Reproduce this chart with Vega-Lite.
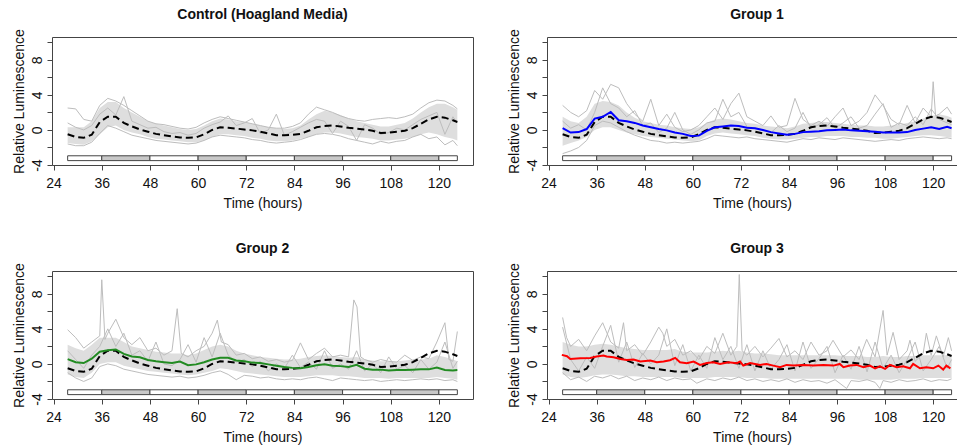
{
"$schema":"https://vega.github.io/schema/vega-lite/v6.json",
"padding":{"left":11,"top":7,"right":0,"bottom":0},
"config":{
"font":"Liberation Sans",
"view":{"stroke":"#444","strokeWidth":1},
"axis":{"domain":false,"grid":false,"tickColor":"#444","tickSize":5,"labelFontSize":14,"titleFontSize":14,"titleFontWeight":"normal","labelColor":"#111","titleColor":"#111","labelFlush":false,"labelOverlap":false},
"axisY":{"labelAngle":-90,"labelAlign":"center","labelBaseline":"bottom","labelPadding":3,"titlePadding":4},
"axisX":{"labelPadding":6,"titlePadding":6},
"title":{"fontSize":14,"fontWeight":"bold","anchor":"middle","frame":"group","offset":7,"color":"#111"}
},
"datasets":{
"ld":[{"x":27.5,"xe":36,"ph":"L"},{"x":36,"xe":48,"ph":"D"},{"x":48,"xe":60,"ph":"L"},{"x":60,"xe":72,"ph":"D"},{"x":72,"xe":84,"ph":"L"},{"x":84,"xe":96,"ph":"D"},{"x":96,"xe":108,"ph":"L"},{"x":108,"xe":120,"ph":"D"},{"x":120,"xe":124.6,"ph":"L"}],
"ctrl":[{"x":27.5,"y":-0.5},{"x":29.5,"y":-0.8},{"x":31.5,"y":-0.9},{"x":33.5,"y":-0.55},{"x":35.5,"y":0.9},{"x":37.5,"y":1.5},{"x":39.5,"y":1.5},{"x":41.5,"y":0.8},{"x":43.5,"y":0.4},{"x":45.5,"y":0.05},{"x":47.5,"y":-0.2},{"x":49.5,"y":-0.45},{"x":51.5,"y":-0.6},{"x":53.5,"y":-0.75},{"x":55.5,"y":-0.85},{"x":57.5,"y":-0.9},{"x":59.5,"y":-0.85},{"x":61.5,"y":-0.5},{"x":63.5,"y":0.0},{"x":65.5,"y":0.3},{"x":67.5,"y":0.25},{"x":69.5,"y":0.15},{"x":71.5,"y":0.05},{"x":73.5,"y":-0.05},{"x":75.5,"y":-0.2},{"x":77.5,"y":-0.4},{"x":79.5,"y":-0.6},{"x":81.5,"y":-0.6},{"x":83.5,"y":-0.55},{"x":85.5,"y":-0.45},{"x":87.5,"y":-0.1},{"x":89.5,"y":0.3},{"x":91.5,"y":0.45},{"x":93.5,"y":0.5},{"x":95.5,"y":0.4},{"x":97.5,"y":0.25},{"x":99.5,"y":0.15},{"x":101.5,"y":0.05},{"x":103.5,"y":-0.1},{"x":105.5,"y":-0.35},{"x":107.5,"y":-0.3},{"x":109.5,"y":-0.2},{"x":111.5,"y":-0.1},{"x":113.5,"y":0.2},{"x":115.5,"y":0.7},{"x":117.5,"y":1.2},{"x":119.5,"y":1.5},{"x":121.5,"y":1.4},{"x":123.5,"y":1.1},{"x":124.6,"y":0.9}],
"cb":[{"x":27.5,"y":-1.5,"hi":0.3},{"x":29.5,"y":-1.6,"hi":0.3},{"x":31.5,"y":-1.7,"hi":0.3},{"x":33.5,"y":-1.3,"hi":1.0},{"x":35.5,"y":-0.5,"hi":2.5},{"x":37.5,"y":0.3,"hi":3.2},{"x":39.5,"y":0.5,"hi":3.2},{"x":41.5,"y":0.0,"hi":2.5},{"x":43.5,"y":-0.3,"hi":2.0},{"x":45.5,"y":-0.5,"hi":1.5},{"x":47.5,"y":-0.8,"hi":1.0},{"x":49.5,"y":-1.0,"hi":0.7},{"x":51.5,"y":-1.1,"hi":0.5},{"x":53.5,"y":-1.2,"hi":0.3},{"x":55.5,"y":-1.3,"hi":0.1},{"x":57.5,"y":-1.4,"hi":0.0},{"x":59.5,"y":-1.4,"hi":0.1},{"x":61.5,"y":-1.2,"hi":0.5},{"x":63.5,"y":-0.8,"hi":1.0},{"x":65.5,"y":-0.5,"hi":1.3},{"x":67.5,"y":-0.5,"hi":1.2},{"x":69.5,"y":-0.6,"hi":1.0},{"x":71.5,"y":-0.7,"hi":0.9},{"x":73.5,"y":-0.9,"hi":0.7},{"x":75.5,"y":-1.0,"hi":0.5},{"x":77.5,"y":-1.2,"hi":0.3},{"x":79.5,"y":-1.3,"hi":0.2},{"x":81.5,"y":-1.3,"hi":0.1},{"x":83.5,"y":-1.2,"hi":0.2},{"x":85.5,"y":-1.0,"hi":0.5},{"x":87.5,"y":-0.8,"hi":1.2},{"x":89.5,"y":-0.5,"hi":1.8},{"x":91.5,"y":-0.3,"hi":2.2},{"x":93.5,"y":-0.3,"hi":2.0},{"x":95.5,"y":-0.4,"hi":1.7},{"x":97.5,"y":-0.6,"hi":1.3},{"x":99.5,"y":-0.8,"hi":1.0},{"x":101.5,"y":-0.9,"hi":0.8},{"x":103.5,"y":-1.0,"hi":0.6},{"x":105.5,"y":-1.2,"hi":0.4},{"x":107.5,"y":-1.2,"hi":0.4},{"x":109.5,"y":-1.1,"hi":0.6},{"x":111.5,"y":-1.0,"hi":0.8},{"x":113.5,"y":-0.8,"hi":1.3},{"x":115.5,"y":-0.5,"hi":2.0},{"x":117.5,"y":-0.3,"hi":2.6},{"x":119.5,"y":-0.5,"hi":3.0},{"x":121.5,"y":-0.8,"hi":3.0},{"x":123.5,"y":-1.0,"hi":2.6},{"x":124.6,"y":-1.2,"hi":2.3}],
"ct":[
{"s":1,"x":27.5,"y":2.5},{"s":1,"x":29.5,"y":2.4},{"s":1,"x":31.5,"y":1.2},{"s":1,"x":33.5,"y":1.0},{"s":1,"x":35.5,"y":2.8},{"s":1,"x":37.5,"y":3.6},{"s":1,"x":39.5,"y":3.3},{"s":1,"x":41.5,"y":2.8},{"s":1,"x":43.5,"y":2.2},{"s":1,"x":45.5,"y":1.6},{"s":1,"x":47.5,"y":1.0},{"s":1,"x":49.5,"y":0.7},{"s":1,"x":51.5,"y":0.6},{"s":1,"x":53.5,"y":0.4},{"s":1,"x":55.5,"y":0.2},{"s":1,"x":57.5,"y":0.1},{"s":1,"x":59.5,"y":0.3},{"s":1,"x":61.5,"y":0.8},{"s":1,"x":63.5,"y":1.2},{"s":1,"x":65.5,"y":1.5},{"s":1,"x":67.5,"y":1.3},{"s":1,"x":69.5,"y":1.1},{"s":1,"x":71.5,"y":0.9},{"s":1,"x":73.5,"y":0.7},{"s":1,"x":75.5,"y":0.5},{"s":1,"x":77.5,"y":0.3},{"s":1,"x":79.5,"y":0.2},{"s":1,"x":81.5,"y":0.2},{"s":1,"x":83.5,"y":0.4},{"s":1,"x":85.5,"y":0.8},{"s":1,"x":87.5,"y":1.8},{"s":1,"x":89.5,"y":2.6},{"s":1,"x":91.5,"y":2.3},{"s":1,"x":93.5,"y":2.0},{"s":1,"x":95.5,"y":1.6},{"s":1,"x":97.5,"y":1.3},{"s":1,"x":99.5,"y":1.1},{"s":1,"x":101.5,"y":1.0},{"s":1,"x":103.5,"y":1.2},{"s":1,"x":105.5,"y":1.3},{"s":1,"x":107.5,"y":1.4},{"s":1,"x":109.5,"y":1.3},{"s":1,"x":111.5,"y":1.5},{"s":1,"x":113.5,"y":1.8},{"s":1,"x":115.5,"y":2.5},{"s":1,"x":117.5,"y":3.1},{"s":1,"x":119.5,"y":3.4},{"s":1,"x":121.5,"y":3.3},{"s":1,"x":123.5,"y":2.8},{"s":1,"x":124.6,"y":2.4},
{"s":2,"x":27.5,"y":-1.6},{"s":2,"x":29.5,"y":-1.8},{"s":2,"x":31.5,"y":-1.8},{"s":2,"x":33.5,"y":-1.4},{"s":2,"x":35.5,"y":-0.4},{"s":2,"x":37.5,"y":0.5},{"s":2,"x":39.5,"y":0.2},{"s":2,"x":41.5,"y":-0.2},{"s":2,"x":43.5,"y":-0.6},{"s":2,"x":45.5,"y":-0.8},{"s":2,"x":47.5,"y":-1.0},{"s":2,"x":49.5,"y":-1.2},{"s":2,"x":51.5,"y":-1.3},{"s":2,"x":53.5,"y":-1.4},{"s":2,"x":55.5,"y":-1.5},{"s":2,"x":57.5,"y":-1.6},{"s":2,"x":59.5,"y":-1.5},{"s":2,"x":61.5,"y":-1.2},{"s":2,"x":63.5,"y":-0.8},{"s":2,"x":65.5,"y":-0.6},{"s":2,"x":67.5,"y":-0.7},{"s":2,"x":69.5,"y":-0.8},{"s":2,"x":71.5,"y":-0.9},{"s":2,"x":73.5,"y":-1.1},{"s":2,"x":75.5,"y":-1.2},{"s":2,"x":77.5,"y":-1.4},{"s":2,"x":79.5,"y":-1.5},{"s":2,"x":81.5,"y":-1.4},{"s":2,"x":83.5,"y":-1.3},{"s":2,"x":85.5,"y":-1.1},{"s":2,"x":87.5,"y":-0.8},{"s":2,"x":89.5,"y":-0.5},{"s":2,"x":91.5,"y":-0.4},{"s":2,"x":93.5,"y":-0.5},{"s":2,"x":95.5,"y":-0.7},{"s":2,"x":97.5,"y":-1.0},{"s":2,"x":99.5,"y":-1.2},{"s":2,"x":101.5,"y":-1.4},{"s":2,"x":103.5,"y":-1.6},{"s":2,"x":105.5,"y":-1.3},{"s":2,"x":107.5,"y":-1.5},{"s":2,"x":109.5,"y":-1.3},{"s":2,"x":111.5,"y":-1.2},{"s":2,"x":113.5,"y":-0.8},{"s":2,"x":115.5,"y":-0.5},{"s":2,"x":117.5,"y":-1.0},{"s":2,"x":119.5,"y":-0.8},{"s":2,"x":121.5,"y":-1.7},{"s":2,"x":123.5,"y":-1.2},{"s":2,"x":124.6,"y":-1.8},
{"s":3,"x":27.5,"y":0.8},{"s":3,"x":29.5,"y":0.3},{"s":3,"x":31.5,"y":0.0},{"s":3,"x":33.5,"y":0.5},{"s":3,"x":35.5,"y":1.8},{"s":3,"x":37.5,"y":2.5},{"s":3,"x":39.5,"y":1.7},{"s":3,"x":41.5,"y":3.8},{"s":3,"x":43.5,"y":1.0},{"s":3,"x":45.5,"y":0.6},{"s":3,"x":47.5,"y":0.2},{"s":3,"x":49.5,"y":0.3},{"s":3,"x":51.5,"y":-0.2},{"s":3,"x":53.5,"y":-0.4},{"s":3,"x":55.5,"y":-0.3},{"s":3,"x":57.5,"y":-0.6},{"s":3,"x":59.5,"y":-0.4},{"s":3,"x":61.5,"y":0.2},{"s":3,"x":63.5,"y":0.6},{"s":3,"x":65.5,"y":0.9},{"s":3,"x":67.5,"y":1.6},{"s":3,"x":69.5,"y":0.5},{"s":3,"x":71.5,"y":0.8},{"s":3,"x":73.5,"y":1.3},{"s":3,"x":75.5,"y":-0.4},{"s":3,"x":77.5,"y":0.0},{"s":3,"x":79.5,"y":1.8},{"s":3,"x":81.5,"y":-0.6},{"s":3,"x":83.5,"y":-0.2},{"s":3,"x":85.5,"y":0.3},{"s":3,"x":87.5,"y":0.8},{"s":3,"x":89.5,"y":1.2},{"s":3,"x":91.5,"y":1.0},{"s":3,"x":93.5,"y":-0.4},{"s":3,"x":95.5,"y":1.0},{"s":3,"x":97.5,"y":0.4},{"s":3,"x":99.5,"y":-1.2},{"s":3,"x":101.5,"y":0.6},{"s":3,"x":103.5,"y":0.2},{"s":3,"x":105.5,"y":-0.5},{"s":3,"x":107.5,"y":-0.3},{"s":3,"x":109.5,"y":0.2},{"s":3,"x":111.5,"y":0.0},{"s":3,"x":113.5,"y":0.6},{"s":3,"x":115.5,"y":1.2},{"s":3,"x":117.5,"y":1.6},{"s":3,"x":119.5,"y":2.0},{"s":3,"x":121.5,"y":-0.5},{"s":3,"x":123.5,"y":1.5},{"s":3,"x":124.6,"y":0.8}],
"b1":[{"x":27.5,"y":-1.8,"hi":1.5},{"x":29.5,"y":-1.5,"hi":1.0},{"x":31.5,"y":-1.2,"hi":0.8},{"x":33.5,"y":-0.8,"hi":1.5},{"x":35.5,"y":0.0,"hi":3.0},{"x":37.5,"y":0.3,"hi":3.3},{"x":39.5,"y":0.3,"hi":3.2},{"x":41.5,"y":0.0,"hi":2.8},{"x":43.5,"y":-0.3,"hi":2.0},{"x":45.5,"y":-0.5,"hi":1.4},{"x":47.5,"y":-0.7,"hi":1.0},{"x":49.5,"y":-0.8,"hi":0.8},{"x":51.5,"y":-0.9,"hi":0.6},{"x":53.5,"y":-1.0,"hi":0.5},{"x":55.5,"y":-1.1,"hi":0.3},{"x":57.5,"y":-1.2,"hi":0.2},{"x":59.5,"y":-1.3,"hi":0.1},{"x":61.5,"y":-1.2,"hi":0.3},{"x":63.5,"y":-0.7,"hi":0.8},{"x":65.5,"y":-0.4,"hi":1.2},{"x":67.5,"y":-0.3,"hi":1.3},{"x":69.5,"y":-0.4,"hi":1.2},{"x":71.5,"y":-0.5,"hi":1.0},{"x":73.5,"y":-0.6,"hi":0.8},{"x":75.5,"y":-0.7,"hi":0.7},{"x":77.5,"y":-0.9,"hi":0.5},{"x":79.5,"y":-1.0,"hi":0.4},{"x":81.5,"y":-1.1,"hi":0.3},{"x":83.5,"y":-1.1,"hi":0.2},{"x":85.5,"y":-1.0,"hi":0.4},{"x":87.5,"y":-0.9,"hi":0.7},{"x":89.5,"y":-0.8,"hi":0.8},{"x":91.5,"y":-0.8,"hi":0.9},{"x":93.5,"y":-0.7,"hi":0.9},{"x":95.5,"y":-0.7,"hi":0.8},{"x":97.5,"y":-0.7,"hi":0.7},{"x":99.5,"y":-0.8,"hi":0.6},{"x":101.5,"y":-0.8,"hi":0.5},{"x":103.5,"y":-0.9,"hi":0.5},{"x":105.5,"y":-0.9,"hi":0.4},{"x":107.5,"y":-1.0,"hi":0.4},{"x":109.5,"y":-1.0,"hi":0.5},{"x":111.5,"y":-0.9,"hi":0.6},{"x":113.5,"y":-0.8,"hi":0.8},{"x":115.5,"y":-0.7,"hi":1.0},{"x":117.5,"y":-0.6,"hi":1.3},{"x":119.5,"y":-0.6,"hi":1.6},{"x":121.5,"y":-0.7,"hi":1.8},{"x":123.5,"y":-0.8,"hi":1.6},{"x":124.6,"y":-0.9,"hi":1.4}],
"t1":[
{"s":1,"x":27.5,"y":2.8},{"s":1,"x":29.5,"y":2.0},{"s":1,"x":31.5,"y":1.5},{"s":1,"x":33.5,"y":2.2},{"s":1,"x":35.5,"y":4.5},{"s":1,"x":37.5,"y":3.5},{"s":1,"x":39.5,"y":5.2},{"s":1,"x":41.5,"y":4.8},{"s":1,"x":43.5,"y":3.0},{"s":1,"x":45.5,"y":1.8},{"s":1,"x":47.5,"y":1.0},{"s":1,"x":49.5,"y":3.5},{"s":1,"x":51.5,"y":0.5},{"s":1,"x":53.5,"y":1.8},{"s":1,"x":55.5,"y":0.3},{"s":1,"x":57.5,"y":-0.2},{"s":1,"x":59.5,"y":0.0},{"s":1,"x":61.5,"y":0.5},{"s":1,"x":63.5,"y":1.5},{"s":1,"x":65.5,"y":2.5},{"s":1,"x":67.5,"y":1.2},{"s":1,"x":69.5,"y":3.0},{"s":1,"x":71.5,"y":4.2},{"s":1,"x":73.5,"y":1.5},{"s":1,"x":75.5,"y":1.0},{"s":1,"x":77.5,"y":0.5},{"s":1,"x":79.5,"y":1.6},{"s":1,"x":81.5,"y":0.3},{"s":1,"x":83.5,"y":0.5},{"s":1,"x":85.5,"y":3.6},{"s":1,"x":87.5,"y":1.2},{"s":1,"x":89.5,"y":0.5},{"s":1,"x":91.5,"y":1.0},{"s":1,"x":93.5,"y":0.4},{"s":1,"x":95.5,"y":1.5},{"s":1,"x":97.5,"y":2.5},{"s":1,"x":99.5,"y":0.5},{"s":1,"x":101.5,"y":1.0},{"s":1,"x":103.5,"y":2.0},{"s":1,"x":105.5,"y":4.0},{"s":1,"x":107.5,"y":2.8},{"s":1,"x":109.5,"y":1.2},{"s":1,"x":111.5,"y":0.6},{"s":1,"x":113.5,"y":2.8},{"s":1,"x":115.5,"y":0.8},{"s":1,"x":117.5,"y":2.5},{"s":1,"x":119.5,"y":1.5},{"s":1,"x":120.0,"y":5.5},{"s":1,"x":120.6,"y":1.6},{"s":1,"x":121.5,"y":1.8},{"s":1,"x":123.5,"y":2.6},{"s":1,"x":124.6,"y":1.8},
{"s":2,"x":27.5,"y":-2.7},{"s":2,"x":29.5,"y":-2.4},{"s":2,"x":31.5,"y":-2.0},{"s":2,"x":33.5,"y":-1.2},{"s":2,"x":35.5,"y":0.5},{"s":2,"x":37.5,"y":1.0},{"s":2,"x":39.5,"y":0.8},{"s":2,"x":41.5,"y":0.3},{"s":2,"x":43.5,"y":-0.2},{"s":2,"x":45.5,"y":-0.6},{"s":2,"x":47.5,"y":-0.9},{"s":2,"x":49.5,"y":-1.2},{"s":2,"x":51.5,"y":-1.3},{"s":2,"x":53.5,"y":-1.5},{"s":2,"x":55.5,"y":-1.4},{"s":2,"x":57.5,"y":-1.5},{"s":2,"x":59.5,"y":-1.4},{"s":2,"x":61.5,"y":-1.3},{"s":2,"x":63.5,"y":-1.0},{"s":2,"x":65.5,"y":-0.6},{"s":2,"x":67.5,"y":-0.7},{"s":2,"x":69.5,"y":-0.8},{"s":2,"x":71.5,"y":-0.9},{"s":2,"x":73.5,"y":-0.8},{"s":2,"x":75.5,"y":-1.0},{"s":2,"x":77.5,"y":-1.1},{"s":2,"x":79.5,"y":-1.2},{"s":2,"x":81.5,"y":-1.3},{"s":2,"x":83.5,"y":-1.4},{"s":2,"x":85.5,"y":-1.2},{"s":2,"x":87.5,"y":-1.0},{"s":2,"x":89.5,"y":-1.1},{"s":2,"x":91.5,"y":-0.9},{"s":2,"x":93.5,"y":-1.0},{"s":2,"x":95.5,"y":-1.1},{"s":2,"x":97.5,"y":-0.9},{"s":2,"x":99.5,"y":-1.0},{"s":2,"x":101.5,"y":-1.1},{"s":2,"x":103.5,"y":-1.2},{"s":2,"x":105.5,"y":-1.3},{"s":2,"x":107.5,"y":-1.2},{"s":2,"x":109.5,"y":-1.1},{"s":2,"x":111.5,"y":-1.2},{"s":2,"x":113.5,"y":-1.0},{"s":2,"x":115.5,"y":-0.9},{"s":2,"x":117.5,"y":-0.8},{"s":2,"x":119.5,"y":-0.9},{"s":2,"x":121.5,"y":-1.0},{"s":2,"x":123.5,"y":-0.9},{"s":2,"x":124.6,"y":-1.0},
{"s":3,"x":27.5,"y":1.0},{"s":3,"x":29.5,"y":0.2},{"s":3,"x":31.5,"y":0.6},{"s":3,"x":33.5,"y":0.0},{"s":3,"x":35.5,"y":2.0},{"s":3,"x":37.5,"y":4.8},{"s":3,"x":39.5,"y":3.0},{"s":3,"x":41.5,"y":2.5},{"s":3,"x":43.5,"y":1.5},{"s":3,"x":45.5,"y":2.2},{"s":3,"x":47.5,"y":0.5},{"s":3,"x":49.5,"y":0.8},{"s":3,"x":51.5,"y":-0.3},{"s":3,"x":53.5,"y":0.2},{"s":3,"x":55.5,"y":2.0},{"s":3,"x":57.5,"y":0.0},{"s":3,"x":59.5,"y":-0.5},{"s":3,"x":61.5,"y":0.0},{"s":3,"x":63.5,"y":0.8},{"s":3,"x":65.5,"y":1.0},{"s":3,"x":67.5,"y":3.5},{"s":3,"x":69.5,"y":1.5},{"s":3,"x":71.5,"y":2.0},{"s":3,"x":73.5,"y":0.4},{"s":3,"x":75.5,"y":0.2},{"s":3,"x":77.5,"y":0.0},{"s":3,"x":79.5,"y":-0.3},{"s":3,"x":81.5,"y":0.5},{"s":3,"x":83.5,"y":-0.2},{"s":3,"x":85.5,"y":0.2},{"s":3,"x":87.5,"y":2.0},{"s":3,"x":89.5,"y":0.2},{"s":3,"x":91.5,"y":0.6},{"s":3,"x":93.5,"y":1.4},{"s":3,"x":95.5,"y":0.2},{"s":3,"x":97.5,"y":0.8},{"s":3,"x":99.5,"y":1.5},{"s":3,"x":101.5,"y":0.2},{"s":3,"x":103.5,"y":0.5},{"s":3,"x":105.5,"y":1.8},{"s":3,"x":107.5,"y":3.0},{"s":3,"x":109.5,"y":0.3},{"s":3,"x":111.5,"y":0.8},{"s":3,"x":113.5,"y":0.5},{"s":3,"x":115.5,"y":1.5},{"s":3,"x":117.5,"y":0.6},{"s":3,"x":119.5,"y":2.4},{"s":3,"x":121.5,"y":1.2},{"s":3,"x":123.5,"y":0.8},{"s":3,"x":124.6,"y":0.6}],
"m1":[{"x":27.5,"y":0.2},{"x":29.5,"y":-0.3},{"x":31.5,"y":-0.25},{"x":33.5,"y":0.1},{"x":35.5,"y":1.3},{"x":37.5,"y":1.5},{"x":39.5,"y":2.05},{"x":41.5,"y":1.1},{"x":43.5,"y":1.0},{"x":45.5,"y":0.8},{"x":47.5,"y":0.5},{"x":49.5,"y":0.3},{"x":51.5,"y":0.1},{"x":53.5,"y":-0.05},{"x":55.5,"y":-0.3},{"x":57.5,"y":-0.45},{"x":59.5,"y":-0.7},{"x":61.5,"y":-0.65},{"x":63.5,"y":-0.1},{"x":65.5,"y":0.3},{"x":67.5,"y":0.4},{"x":69.5,"y":0.5},{"x":71.5,"y":0.45},{"x":73.5,"y":0.25},{"x":75.5,"y":0.2},{"x":77.5,"y":0.0},{"x":79.5,"y":-0.25},{"x":81.5,"y":-0.4},{"x":83.5,"y":-0.55},{"x":85.5,"y":-0.45},{"x":87.5,"y":-0.25},{"x":89.5,"y":-0.2},{"x":91.5,"y":-0.15},{"x":93.5,"y":-0.05},{"x":95.5,"y":0.0},{"x":97.5,"y":0.05},{"x":99.5,"y":-0.05},{"x":101.5,"y":-0.1},{"x":103.5,"y":-0.15},{"x":105.5,"y":-0.2},{"x":107.5,"y":-0.3},{"x":109.5,"y":-0.3},{"x":111.5,"y":-0.3},{"x":113.5,"y":-0.25},{"x":115.5,"y":0.0},{"x":117.5,"y":0.15},{"x":119.5,"y":0.3},{"x":121.5,"y":0.1},{"x":123.5,"y":0.35},{"x":124.6,"y":0.2}],
"b2":[{"x":27.5,"y":-1.2,"hi":2.2},{"x":29.5,"y":-1.5,"hi":1.8},{"x":31.5,"y":-1.6,"hi":1.5},{"x":33.5,"y":-1.0,"hi":2.2},{"x":35.5,"y":0.0,"hi":3.0},{"x":37.5,"y":0.2,"hi":3.0},{"x":39.5,"y":0.2,"hi":3.0},{"x":41.5,"y":-0.2,"hi":2.5},{"x":43.5,"y":-0.4,"hi":2.0},{"x":45.5,"y":-0.6,"hi":1.8},{"x":47.5,"y":-0.8,"hi":1.6},{"x":49.5,"y":-0.9,"hi":1.4},{"x":51.5,"y":-1.0,"hi":1.3},{"x":53.5,"y":-1.1,"hi":1.2},{"x":55.5,"y":-1.2,"hi":1.2},{"x":57.5,"y":-1.3,"hi":1.0},{"x":59.5,"y":-1.2,"hi":1.2},{"x":61.5,"y":-1.0,"hi":1.6},{"x":63.5,"y":-0.8,"hi":2.0},{"x":65.5,"y":-0.5,"hi":2.2},{"x":67.5,"y":-0.6,"hi":2.0},{"x":69.5,"y":-0.8,"hi":1.5},{"x":71.5,"y":-1.0,"hi":1.2},{"x":73.5,"y":-1.1,"hi":1.0},{"x":75.5,"y":-1.2,"hi":0.8},{"x":77.5,"y":-1.3,"hi":0.7},{"x":79.5,"y":-1.4,"hi":0.6},{"x":81.5,"y":-1.5,"hi":0.5},{"x":83.5,"y":-1.5,"hi":0.5},{"x":85.5,"y":-1.5,"hi":0.6},{"x":87.5,"y":-1.4,"hi":0.8},{"x":89.5,"y":-1.3,"hi":0.9},{"x":91.5,"y":-1.3,"hi":1.0},{"x":93.5,"y":-1.3,"hi":0.9},{"x":95.5,"y":-1.4,"hi":0.8},{"x":97.5,"y":-1.4,"hi":0.7},{"x":99.5,"y":-1.5,"hi":0.8},{"x":101.5,"y":-1.6,"hi":0.5},{"x":103.5,"y":-1.6,"hi":0.4},{"x":105.5,"y":-1.6,"hi":0.3},{"x":107.5,"y":-1.7,"hi":0.3},{"x":109.5,"y":-1.6,"hi":0.3},{"x":111.5,"y":-1.6,"hi":0.4},{"x":113.5,"y":-1.6,"hi":0.5},{"x":115.5,"y":-1.6,"hi":0.5},{"x":117.5,"y":-1.6,"hi":0.6},{"x":119.5,"y":-1.5,"hi":1.0},{"x":121.5,"y":-1.6,"hi":0.8},{"x":123.5,"y":-1.7,"hi":0.5},{"x":124.6,"y":-1.8,"hi":0.3}],
"t2":[
{"s":1,"x":27.5,"y":3.9},{"s":1,"x":29.5,"y":3.0},{"s":1,"x":31.5,"y":1.8},{"s":1,"x":33.5,"y":2.5},{"s":1,"x":35.5,"y":3.2},{"s":1,"x":36.0,"y":9.6},{"s":1,"x":36.8,"y":2.8},{"s":1,"x":37.5,"y":3.5},{"s":1,"x":39.5,"y":5.1},{"s":1,"x":41.5,"y":3.0},{"s":1,"x":43.5,"y":2.2},{"s":1,"x":45.5,"y":3.0},{"s":1,"x":47.5,"y":1.5},{"s":1,"x":49.5,"y":1.8},{"s":1,"x":51.5,"y":1.0},{"s":1,"x":53.5,"y":1.5},{"s":1,"x":54.8,"y":6.3},{"s":1,"x":55.8,"y":1.2},{"s":1,"x":57.5,"y":0.8},{"s":1,"x":59.5,"y":1.5},{"s":1,"x":61.5,"y":2.0},{"s":1,"x":63.5,"y":3.5},{"s":1,"x":64.8,"y":5.0},{"s":1,"x":65.8,"y":2.5},{"s":1,"x":67.5,"y":2.2},{"s":1,"x":69.5,"y":1.0},{"s":1,"x":71.5,"y":1.2},{"s":1,"x":73.5,"y":0.6},{"s":1,"x":75.5,"y":0.8},{"s":1,"x":77.5,"y":0.3},{"s":1,"x":79.5,"y":0.5},{"s":1,"x":81.5,"y":0.2},{"s":1,"x":83.5,"y":0.4},{"s":1,"x":85.5,"y":2.4},{"s":1,"x":87.5,"y":0.5},{"s":1,"x":89.5,"y":1.2},{"s":1,"x":91.5,"y":1.8},{"s":1,"x":93.5,"y":0.8},{"s":1,"x":95.5,"y":1.0},{"s":1,"x":97.5,"y":0.8},{"s":1,"x":98.8,"y":7.3},{"s":1,"x":99.6,"y":6.5},{"s":1,"x":100.5,"y":0.8},{"s":1,"x":101.5,"y":0.5},{"s":1,"x":103.5,"y":0.2},{"s":1,"x":105.5,"y":0.5},{"s":1,"x":107.5,"y":0.3},{"s":1,"x":109.5,"y":0.2},{"s":1,"x":111.5,"y":1.0},{"s":1,"x":113.5,"y":0.4},{"s":1,"x":115.5,"y":0.8},{"s":1,"x":117.5,"y":0.6},{"s":1,"x":119.5,"y":2.5},{"s":1,"x":121.5,"y":4.7},{"s":1,"x":122.5,"y":0.5},{"s":1,"x":123.5,"y":0.3},{"s":1,"x":124.6,"y":3.7},
{"s":2,"x":27.5,"y":-1.0},{"s":2,"x":29.5,"y":-1.6},{"s":2,"x":31.5,"y":-2.0},{"s":2,"x":33.5,"y":-1.6},{"s":2,"x":35.5,"y":-0.3},{"s":2,"x":37.5,"y":0.0},{"s":2,"x":39.5,"y":-0.2},{"s":2,"x":41.5,"y":-0.6},{"s":2,"x":43.5,"y":-0.8},{"s":2,"x":45.5,"y":-1.0},{"s":2,"x":47.5,"y":-1.2},{"s":2,"x":49.5,"y":-1.3},{"s":2,"x":51.5,"y":-1.4},{"s":2,"x":53.5,"y":-1.5},{"s":2,"x":55.5,"y":-1.4},{"s":2,"x":57.5,"y":-1.6},{"s":2,"x":59.5,"y":-1.5},{"s":2,"x":61.5,"y":-1.3},{"s":2,"x":63.5,"y":-1.0},{"s":2,"x":65.5,"y":-0.8},{"s":2,"x":67.5,"y":-1.2},{"s":2,"x":69.5,"y":-1.8},{"s":2,"x":71.5,"y":-1.3},{"s":2,"x":73.5,"y":-1.4},{"s":2,"x":75.5,"y":-1.6},{"s":2,"x":77.5,"y":-1.5},{"s":2,"x":79.5,"y":-1.7},{"s":2,"x":81.5,"y":-1.8},{"s":2,"x":83.5,"y":-1.7},{"s":2,"x":85.5,"y":-1.8},{"s":2,"x":87.5,"y":-1.6},{"s":2,"x":89.5,"y":-1.5},{"s":2,"x":91.5,"y":-1.7},{"s":2,"x":93.5,"y":-1.9},{"s":2,"x":95.5,"y":-1.6},{"s":2,"x":97.5,"y":-1.7},{"s":2,"x":99.5,"y":-1.8},{"s":2,"x":101.5,"y":-1.9},{"s":2,"x":103.5,"y":-1.8},{"s":2,"x":105.5,"y":-2.0},{"s":2,"x":107.5,"y":-1.9},{"s":2,"x":109.5,"y":-1.8},{"s":2,"x":111.5,"y":-1.9},{"s":2,"x":113.5,"y":-1.8},{"s":2,"x":115.5,"y":-1.7},{"s":2,"x":117.5,"y":-1.8},{"s":2,"x":119.5,"y":-1.7},{"s":2,"x":121.5,"y":-1.9},{"s":2,"x":123.5,"y":-1.8},{"s":2,"x":124.6,"y":-2.0},
{"s":3,"x":27.5,"y":1.5},{"s":3,"x":29.5,"y":0.5},{"s":3,"x":31.5,"y":-0.5},{"s":3,"x":33.5,"y":1.0},{"s":3,"x":35.5,"y":2.0},{"s":3,"x":37.5,"y":4.0},{"s":3,"x":39.5,"y":2.0},{"s":3,"x":41.5,"y":3.5},{"s":3,"x":43.5,"y":1.0},{"s":3,"x":45.5,"y":1.5},{"s":3,"x":47.5,"y":0.3},{"s":3,"x":49.5,"y":2.5},{"s":3,"x":51.5,"y":0.0},{"s":3,"x":53.5,"y":-0.2},{"s":3,"x":55.5,"y":0.5},{"s":3,"x":57.5,"y":2.2},{"s":3,"x":59.5,"y":0.2},{"s":3,"x":61.5,"y":3.0},{"s":3,"x":63.5,"y":0.8},{"s":3,"x":65.5,"y":3.5},{"s":3,"x":67.5,"y":1.0},{"s":3,"x":69.5,"y":0.2},{"s":3,"x":71.5,"y":0.5},{"s":3,"x":73.5,"y":-0.3},{"s":3,"x":75.5,"y":0.3},{"s":3,"x":77.5,"y":-0.8},{"s":3,"x":79.5,"y":0.0},{"s":3,"x":81.5,"y":-0.5},{"s":3,"x":83.5,"y":1.0},{"s":3,"x":85.5,"y":-0.4},{"s":3,"x":87.5,"y":0.2},{"s":3,"x":89.5,"y":-0.6},{"s":3,"x":91.5,"y":1.5},{"s":3,"x":93.5,"y":-0.5},{"s":3,"x":95.5,"y":0.0},{"s":3,"x":97.5,"y":-0.6},{"s":3,"x":99.5,"y":1.5},{"s":3,"x":101.5,"y":-0.8},{"s":3,"x":103.5,"y":0.0},{"s":3,"x":105.5,"y":-1.0},{"s":3,"x":107.5,"y":0.8},{"s":3,"x":109.5,"y":-0.6},{"s":3,"x":111.5,"y":-0.2},{"s":3,"x":113.5,"y":-1.0},{"s":3,"x":115.5,"y":0.5},{"s":3,"x":117.5,"y":-0.6},{"s":3,"x":119.5,"y":0.2},{"s":3,"x":121.5,"y":2.5},{"s":3,"x":123.5,"y":-0.5},{"s":3,"x":124.6,"y":0.3}],
"m2":[{"x":27.5,"y":0.55},{"x":29.5,"y":0.2},{"x":31.5,"y":0.1},{"x":33.5,"y":0.6},{"x":35.5,"y":1.4},{"x":37.5,"y":1.55},{"x":39.5,"y":1.65},{"x":41.5,"y":1.15},{"x":43.5,"y":0.85},{"x":45.5,"y":0.75},{"x":47.5,"y":0.45},{"x":49.5,"y":0.3},{"x":51.5,"y":0.2},{"x":53.5,"y":0.1},{"x":55.5,"y":0.27},{"x":57.5,"y":-0.15},{"x":59.5,"y":-0.05},{"x":61.5,"y":0.2},{"x":63.5,"y":0.5},{"x":65.5,"y":0.7},{"x":67.5,"y":0.7},{"x":69.5,"y":0.4},{"x":71.5,"y":0.3},{"x":73.5,"y":0.15},{"x":75.5,"y":0.1},{"x":77.5,"y":-0.05},{"x":79.5,"y":-0.2},{"x":81.5,"y":-0.35},{"x":83.5,"y":-0.45},{"x":85.5,"y":-0.5},{"x":87.5,"y":-0.35},{"x":89.5,"y":-0.15},{"x":91.5,"y":-0.05},{"x":93.5,"y":-0.2},{"x":95.5,"y":-0.25},{"x":97.5,"y":-0.35},{"x":99.5,"y":-0.1},{"x":101.5,"y":-0.55},{"x":103.5,"y":-0.65},{"x":105.5,"y":-0.65},{"x":107.5,"y":-0.75},{"x":109.5,"y":-0.7},{"x":111.5,"y":-0.7},{"x":113.5,"y":-0.65},{"x":115.5,"y":-0.6},{"x":117.5,"y":-0.62},{"x":119.5,"y":-0.4},{"x":121.5,"y":-0.7},{"x":123.5,"y":-0.75},{"x":124.6,"y":-0.7}],
"b3":[{"x":27.5,"y":-1.2,"hi":2.5},{"x":29.5,"y":-1.5,"hi":2.2},{"x":31.5,"y":-1.6,"hi":2.0},{"x":33.5,"y":-1.5,"hi":2.0},{"x":35.5,"y":-1.3,"hi":2.2},{"x":37.5,"y":-1.2,"hi":2.3},{"x":39.5,"y":-1.2,"hi":2.2},{"x":41.5,"y":-1.3,"hi":2.0},{"x":43.5,"y":-1.4,"hi":1.8},{"x":45.5,"y":-1.4,"hi":1.7},{"x":47.5,"y":-1.5,"hi":1.6},{"x":49.5,"y":-1.5,"hi":1.6},{"x":51.5,"y":-1.5,"hi":1.6},{"x":53.5,"y":-1.5,"hi":1.6},{"x":55.5,"y":-1.5,"hi":1.7},{"x":57.5,"y":-1.6,"hi":1.4},{"x":59.5,"y":-1.6,"hi":1.3},{"x":61.5,"y":-1.6,"hi":1.3},{"x":63.5,"y":-1.6,"hi":1.3},{"x":65.5,"y":-1.5,"hi":1.4},{"x":67.5,"y":-1.5,"hi":1.5},{"x":69.5,"y":-1.5,"hi":1.4},{"x":71.5,"y":-1.5,"hi":1.5},{"x":73.5,"y":-1.6,"hi":1.3},{"x":75.5,"y":-1.6,"hi":1.2},{"x":77.5,"y":-1.6,"hi":1.2},{"x":79.5,"y":-1.7,"hi":1.1},{"x":81.5,"y":-1.7,"hi":1.0},{"x":83.5,"y":-1.7,"hi":1.0},{"x":85.5,"y":-1.7,"hi":1.0},{"x":87.5,"y":-1.7,"hi":1.0},{"x":89.5,"y":-1.7,"hi":1.0},{"x":91.5,"y":-1.7,"hi":1.0},{"x":93.5,"y":-1.7,"hi":1.0},{"x":95.5,"y":-1.7,"hi":1.0},{"x":97.5,"y":-1.7,"hi":0.9},{"x":99.5,"y":-1.7,"hi":0.9},{"x":101.5,"y":-1.8,"hi":0.9},{"x":103.5,"y":-1.8,"hi":0.8},{"x":105.5,"y":-1.8,"hi":0.8},{"x":107.5,"y":-1.8,"hi":0.9},{"x":109.5,"y":-1.8,"hi":0.8},{"x":111.5,"y":-1.7,"hi":0.8},{"x":113.5,"y":-1.7,"hi":0.9},{"x":115.5,"y":-1.7,"hi":0.9},{"x":117.5,"y":-1.6,"hi":1.0},{"x":119.5,"y":-1.6,"hi":1.0},{"x":121.5,"y":-1.6,"hi":1.0},{"x":123.5,"y":-1.6,"hi":1.0},{"x":124.6,"y":-1.6,"hi":1.0}],
"t3":[
{"s":1,"x":27.5,"y":5.3},{"s":1,"x":28.5,"y":3.0},{"s":1,"x":29.5,"y":2.0},{"s":1,"x":31.5,"y":2.8},{"s":1,"x":33.5,"y":1.5},{"s":1,"x":35.5,"y":3.2},{"s":1,"x":37.5,"y":4.7},{"s":1,"x":39.5,"y":2.5},{"s":1,"x":41.5,"y":1.8},{"s":1,"x":42.7,"y":4.7},{"s":1,"x":43.5,"y":1.5},{"s":1,"x":45.5,"y":2.2},{"s":1,"x":47.5,"y":1.0},{"s":1,"x":49.5,"y":2.5},{"s":1,"x":51.5,"y":4.2},{"s":1,"x":52.5,"y":3.5},{"s":1,"x":53.5,"y":2.0},{"s":1,"x":55.5,"y":2.8},{"s":1,"x":57.5,"y":1.0},{"s":1,"x":59.5,"y":1.5},{"s":1,"x":61.5,"y":0.5},{"s":1,"x":63.5,"y":2.0},{"s":1,"x":65.5,"y":1.2},{"s":1,"x":67.5,"y":3.5},{"s":1,"x":69.5,"y":1.0},{"s":1,"x":71.0,"y":2.0},{"s":1,"x":71.6,"y":10.2},{"s":1,"x":72.3,"y":1.5},{"s":1,"x":73.5,"y":1.0},{"s":1,"x":75.5,"y":2.0},{"s":1,"x":77.5,"y":0.8},{"s":1,"x":79.5,"y":1.8},{"s":1,"x":81.5,"y":2.9},{"s":1,"x":83.5,"y":0.8},{"s":1,"x":85.5,"y":1.5},{"s":1,"x":87.5,"y":0.5},{"s":1,"x":89.5,"y":2.5},{"s":1,"x":91.5,"y":1.0},{"s":1,"x":93.5,"y":1.5},{"s":1,"x":95.0,"y":2.7},{"s":1,"x":97.5,"y":0.8},{"s":1,"x":99.5,"y":1.6},{"s":1,"x":101.5,"y":0.5},{"s":1,"x":103.4,"y":2.8},{"s":1,"x":105.5,"y":0.8},{"s":1,"x":107.5,"y":6.1},{"s":1,"x":108.5,"y":1.0},{"s":1,"x":110.0,"y":3.6},{"s":1,"x":111.5,"y":0.5},{"s":1,"x":113.5,"y":1.5},{"s":1,"x":114.2,"y":2.7},{"s":1,"x":115.5,"y":0.3},{"s":1,"x":117.5,"y":1.2},{"s":1,"x":118.3,"y":3.5},{"s":1,"x":119.5,"y":1.0},{"s":1,"x":120.8,"y":3.2},{"s":1,"x":122.5,"y":0.8},{"s":1,"x":123.8,"y":3.0},{"s":1,"x":124.6,"y":1.5},
{"s":2,"x":27.5,"y":-1.0},{"s":2,"x":29.5,"y":-1.8},{"s":2,"x":31.5,"y":-1.5},{"s":2,"x":33.5,"y":-2.0},{"s":2,"x":35.5,"y":-1.4},{"s":2,"x":37.5,"y":-1.6},{"s":2,"x":39.5,"y":-1.3},{"s":2,"x":41.5,"y":-1.7},{"s":2,"x":43.5,"y":-1.4},{"s":2,"x":45.5,"y":-1.9},{"s":2,"x":47.5,"y":-1.6},{"s":2,"x":49.5,"y":-1.8},{"s":2,"x":51.5,"y":-1.5},{"s":2,"x":53.5,"y":-1.9},{"s":2,"x":55.5,"y":-1.6},{"s":2,"x":57.5,"y":-1.8},{"s":2,"x":59.5,"y":-1.7},{"s":2,"x":61.0,"y":-2.2},{"s":2,"x":63.5,"y":-1.7},{"s":2,"x":65.5,"y":-1.9},{"s":2,"x":67.5,"y":-1.6},{"s":2,"x":69.5,"y":-1.8},{"s":2,"x":71.5,"y":-1.5},{"s":2,"x":73.5,"y":-1.9},{"s":2,"x":75.5,"y":-1.7},{"s":2,"x":77.5,"y":-2.0},{"s":2,"x":79.5,"y":-1.8},{"s":2,"x":81.5,"y":-2.0},{"s":2,"x":83.5,"y":-1.7},{"s":2,"x":85.5,"y":-2.1},{"s":2,"x":87.5,"y":-1.8},{"s":2,"x":89.5,"y":-2.0},{"s":2,"x":91.5,"y":-1.9},{"s":2,"x":93.5,"y":-2.2},{"s":2,"x":95.5,"y":-1.8},{"s":2,"x":98.4,"y":-2.8},{"s":2,"x":99.5,"y":-1.9},{"s":2,"x":101.5,"y":-2.0},{"s":2,"x":103.5,"y":-1.8},{"s":2,"x":105.5,"y":-2.1},{"s":2,"x":106.7,"y":-2.8},{"s":2,"x":107.5,"y":-1.9},{"s":2,"x":109.5,"y":-2.1},{"s":2,"x":111.5,"y":-1.8},{"s":2,"x":113.5,"y":-2.0},{"s":2,"x":115.5,"y":-1.9},{"s":2,"x":117.5,"y":-1.7},{"s":2,"x":119.5,"y":-2.0},{"s":2,"x":121.5,"y":-1.8},{"s":2,"x":123.5,"y":-1.9},{"s":2,"x":124.6,"y":-1.7},
{"s":3,"x":27.5,"y":4.2},{"s":3,"x":29.5,"y":0.5},{"s":3,"x":31.5,"y":-0.8},{"s":3,"x":33.5,"y":0.8},{"s":3,"x":35.5,"y":-0.5},{"s":3,"x":37.5,"y":2.0},{"s":3,"x":39.5,"y":4.4},{"s":3,"x":41.5,"y":0.2},{"s":3,"x":43.5,"y":2.5},{"s":3,"x":45.5,"y":-0.4},{"s":3,"x":47.5,"y":1.2},{"s":3,"x":49.5,"y":0.0},{"s":3,"x":51.5,"y":1.0},{"s":3,"x":53.5,"y":4.0},{"s":3,"x":55.5,"y":-0.2},{"s":3,"x":57.5,"y":2.2},{"s":3,"x":59.5,"y":-0.8},{"s":3,"x":61.5,"y":1.0},{"s":3,"x":63.5,"y":-0.5},{"s":3,"x":65.5,"y":3.0},{"s":3,"x":67.5,"y":0.5},{"s":3,"x":69.5,"y":2.0},{"s":3,"x":71.5,"y":-0.5},{"s":3,"x":73.5,"y":2.2},{"s":3,"x":75.5,"y":-0.8},{"s":3,"x":77.5,"y":1.5},{"s":3,"x":79.5,"y":-0.6},{"s":3,"x":81.5,"y":0.5},{"s":3,"x":83.5,"y":2.2},{"s":3,"x":85.5,"y":-0.8},{"s":3,"x":87.5,"y":2.5},{"s":3,"x":89.5,"y":-0.5},{"s":3,"x":91.5,"y":0.6},{"s":3,"x":93.5,"y":2.0},{"s":3,"x":95.5,"y":-1.0},{"s":3,"x":97.5,"y":1.0},{"s":3,"x":99.5,"y":-0.6},{"s":3,"x":101.5,"y":2.0},{"s":3,"x":103.5,"y":-0.9},{"s":3,"x":105.5,"y":2.5},{"s":3,"x":107.5,"y":-0.5},{"s":3,"x":109.5,"y":1.0},{"s":3,"x":111.5,"y":-1.0},{"s":3,"x":113.5,"y":0.5},{"s":3,"x":115.5,"y":2.5},{"s":3,"x":117.5,"y":-0.8},{"s":3,"x":119.5,"y":0.5},{"s":3,"x":121.5,"y":2.0},{"s":3,"x":123.5,"y":-0.5},{"s":3,"x":124.6,"y":0.5}],
"m3":[{"x":27.3,"y":1.03},{"x":28.6,"y":0.88},{"x":29.4,"y":0.57},{"x":31.9,"y":0.65},{"x":34.4,"y":0.69},{"x":36.0,"y":0.84},{"x":37.7,"y":0.95},{"x":38.5,"y":0.84},{"x":40.2,"y":0.76},{"x":41.9,"y":0.57},{"x":43.5,"y":0.46},{"x":45.2,"y":0.5},{"x":46.9,"y":0.27},{"x":49.4,"y":0.38},{"x":51.0,"y":0.19},{"x":52.7,"y":0.27},{"x":54.3,"y":0.42},{"x":55.6,"y":0.69},{"x":56.8,"y":0.19},{"x":58.5,"y":0.08},{"x":60.2,"y":0.27},{"x":61.8,"y":-0.11},{"x":63.5,"y":0.11},{"x":65.1,"y":0.19},{"x":66.8,"y":0.0},{"x":68.9,"y":0.19},{"x":71.0,"y":0.08},{"x":71.8,"y":0.27},{"x":72.6,"y":-0.19},{"x":74.3,"y":0.11},{"x":76.8,"y":-0.11},{"x":78.4,"y":0.0},{"x":80.1,"y":-0.19},{"x":81.8,"y":-0.38},{"x":83.4,"y":-0.11},{"x":85.1,"y":-0.19},{"x":87.6,"y":-0.11},{"x":90.1,"y":-0.19},{"x":92.6,"y":-0.11},{"x":95.1,"y":-0.19},{"x":96.7,"y":0.0},{"x":97.6,"y":-0.38},{"x":99.2,"y":-0.19},{"x":100.9,"y":-0.11},{"x":102.6,"y":-0.38},{"x":104.2,"y":-0.19},{"x":105.5,"y":-0.5},{"x":106.7,"y":-0.27},{"x":108.0,"y":-0.57},{"x":109.2,"y":-0.11},{"x":110.9,"y":-0.38},{"x":112.5,"y":-0.27},{"x":114.2,"y":-0.5},{"x":115.0,"y":0.0},{"x":116.7,"y":-0.5},{"x":118.3,"y":-0.38},{"x":120.0,"y":-0.5},{"x":121.3,"y":-0.19},{"x":122.5,"y":-0.65},{"x":123.3,"y":-0.19},{"x":124.3,"y":-0.5}]
},
"spacing":30,
"vconcat":[
{"hconcat":[
{"width":421,"height":128,"title":{"text":"Control (Hoagland Media)"},
"encoding":{"x":{"field":"x","type":"quantitative","scale":{"domain":[23.6,128.5],"nice":false,"zero":false},"axis":{"title":"Time (hours)","values":[24,36,48,60,72,84,96,108,120]}}},
"layer":[
{"data":{"name":"cb"},"mark":{"type":"area","color":"#dedede"},"encoding":{"y":{"field":"y","type":"quantitative","scale":{"domain":[-4,10.6],"nice":false,"zero":false},"axis":{"title":"Relative Luminescence","values":[-4,-2,0,2,4,6,8,10],"labelExpr":"datum.value % 4 === 0 ? '' + datum.value : ''"}},"y2":{"field":"hi"}}},
{"data":{"name":"ct"},"mark":{"type":"line","color":"#bdbdbd","strokeWidth":1},"encoding":{"y":{"field":"y","type":"quantitative","axis":{"title":"Relative Luminescence","values":[-4,-2,0,2,4,6,8,10],"labelExpr":"datum.value % 4 === 0 ? '' + datum.value : ''"}},"detail":{"field":"s","type":"nominal"}}},
{"data":{"name":"ld"},"mark":{"type":"rect","stroke":"#444","strokeWidth":1},"encoding":{"x2":{"field":"xe"},"y":{"datum":-2.95,"type":"quantitative","axis":{"title":"Relative Luminescence","values":[-4,-2,0,2,4,6,8,10],"labelExpr":"datum.value % 4 === 0 ? '' + datum.value : ''"}},"y2":{"datum":-3.5},"fill":{"field":"ph","type":"nominal","scale":{"domain":["L","D"],"range":["#ffffff","#c8c8c8"]},"legend":null}}},
{"data":{"name":"ctrl"},"mark":{"type":"line","color":"#000000","strokeWidth":2,"strokeDash":[7,4]},"encoding":{"y":{"field":"y","type":"quantitative","axis":{"title":"Relative Luminescence","values":[-4,-2,0,2,4,6,8,10],"labelExpr":"datum.value % 4 === 0 ? '' + datum.value : ''"}}}}
]},
{"width":410,"height":128,"title":{"text":"Group 1","dx":5},
"encoding":{"x":{"field":"x","type":"quantitative","scale":{"domain":[23.6,125.95],"nice":false,"zero":false},"axis":{"title":"Time (hours)","values":[24,36,48,60,72,84,96,108,120]}}},
"layer":[
{"data":{"name":"b1"},"mark":{"type":"area","color":"#dedede"},"encoding":{"y":{"field":"y","type":"quantitative","scale":{"domain":[-4,10.6],"nice":false,"zero":false},"axis":{"title":"Relative Luminescence","values":[-4,-2,0,2,4,6,8,10],"labelExpr":"datum.value % 4 === 0 ? '' + datum.value : ''"}},"y2":{"field":"hi"}}},
{"data":{"name":"t1"},"mark":{"type":"line","color":"#bdbdbd","strokeWidth":1},"encoding":{"y":{"field":"y","type":"quantitative","axis":{"title":"Relative Luminescence","values":[-4,-2,0,2,4,6,8,10],"labelExpr":"datum.value % 4 === 0 ? '' + datum.value : ''"}},"detail":{"field":"s","type":"nominal"}}},
{"data":{"name":"ld"},"mark":{"type":"rect","stroke":"#444","strokeWidth":1},"encoding":{"x2":{"field":"xe"},"y":{"datum":-2.95,"type":"quantitative","axis":{"title":"Relative Luminescence","values":[-4,-2,0,2,4,6,8,10],"labelExpr":"datum.value % 4 === 0 ? '' + datum.value : ''"}},"y2":{"datum":-3.5},"fill":{"field":"ph","type":"nominal","scale":{"domain":["L","D"],"range":["#ffffff","#c8c8c8"]},"legend":null}}},
{"data":{"name":"ctrl"},"mark":{"type":"line","color":"#000000","strokeWidth":2,"strokeDash":[7,4]},"encoding":{"y":{"field":"y","type":"quantitative","axis":{"title":"Relative Luminescence","values":[-4,-2,0,2,4,6,8,10],"labelExpr":"datum.value % 4 === 0 ? '' + datum.value : ''"}}}},
{"data":{"name":"m1"},"mark":{"type":"line","color":"#0000ff","strokeWidth":2},"encoding":{"y":{"field":"y","type":"quantitative","axis":{"title":"Relative Luminescence","values":[-4,-2,0,2,4,6,8,10],"labelExpr":"datum.value % 4 === 0 ? '' + datum.value : ''"}}}}
]}
],"spacing":32},
{"hconcat":[
{"width":421,"height":128,"title":{"text":"Group 2"},
"encoding":{"x":{"field":"x","type":"quantitative","scale":{"domain":[23.6,128.5],"nice":false,"zero":false},"axis":{"title":"Time (hours)","values":[24,36,48,60,72,84,96,108,120]}}},
"layer":[
{"data":{"name":"b2"},"mark":{"type":"area","color":"#dedede"},"encoding":{"y":{"field":"y","type":"quantitative","scale":{"domain":[-4,10.6],"nice":false,"zero":false},"axis":{"title":"Relative Luminescence","values":[-4,-2,0,2,4,6,8,10],"labelExpr":"datum.value % 4 === 0 ? '' + datum.value : ''"}},"y2":{"field":"hi"}}},
{"data":{"name":"t2"},"mark":{"type":"line","color":"#bdbdbd","strokeWidth":1},"encoding":{"y":{"field":"y","type":"quantitative","axis":{"title":"Relative Luminescence","values":[-4,-2,0,2,4,6,8,10],"labelExpr":"datum.value % 4 === 0 ? '' + datum.value : ''"}},"detail":{"field":"s","type":"nominal"}}},
{"data":{"name":"ld"},"mark":{"type":"rect","stroke":"#444","strokeWidth":1},"encoding":{"x2":{"field":"xe"},"y":{"datum":-2.95,"type":"quantitative","axis":{"title":"Relative Luminescence","values":[-4,-2,0,2,4,6,8,10],"labelExpr":"datum.value % 4 === 0 ? '' + datum.value : ''"}},"y2":{"datum":-3.5},"fill":{"field":"ph","type":"nominal","scale":{"domain":["L","D"],"range":["#ffffff","#c8c8c8"]},"legend":null}}},
{"data":{"name":"ctrl"},"mark":{"type":"line","color":"#000000","strokeWidth":2,"strokeDash":[7,4]},"encoding":{"y":{"field":"y","type":"quantitative","axis":{"title":"Relative Luminescence","values":[-4,-2,0,2,4,6,8,10],"labelExpr":"datum.value % 4 === 0 ? '' + datum.value : ''"}}}},
{"data":{"name":"m2"},"mark":{"type":"line","color":"#228b22","strokeWidth":2},"encoding":{"y":{"field":"y","type":"quantitative","axis":{"title":"Relative Luminescence","values":[-4,-2,0,2,4,6,8,10],"labelExpr":"datum.value % 4 === 0 ? '' + datum.value : ''"}}}}
]},
{"width":410,"height":128,"title":{"text":"Group 3","dx":5},
"encoding":{"x":{"field":"x","type":"quantitative","scale":{"domain":[23.6,125.95],"nice":false,"zero":false},"axis":{"title":"Time (hours)","values":[24,36,48,60,72,84,96,108,120]}}},
"layer":[
{"data":{"name":"b3"},"mark":{"type":"area","color":"#dedede"},"encoding":{"y":{"field":"y","type":"quantitative","scale":{"domain":[-4,10.6],"nice":false,"zero":false},"axis":{"title":"Relative Luminescence","values":[-4,-2,0,2,4,6,8,10],"labelExpr":"datum.value % 4 === 0 ? '' + datum.value : ''"}},"y2":{"field":"hi"}}},
{"data":{"name":"t3"},"mark":{"type":"line","color":"#bdbdbd","strokeWidth":1},"encoding":{"y":{"field":"y","type":"quantitative","axis":{"title":"Relative Luminescence","values":[-4,-2,0,2,4,6,8,10],"labelExpr":"datum.value % 4 === 0 ? '' + datum.value : ''"}},"detail":{"field":"s","type":"nominal"}}},
{"data":{"name":"ld"},"mark":{"type":"rect","stroke":"#444","strokeWidth":1},"encoding":{"x2":{"field":"xe"},"y":{"datum":-2.95,"type":"quantitative","axis":{"title":"Relative Luminescence","values":[-4,-2,0,2,4,6,8,10],"labelExpr":"datum.value % 4 === 0 ? '' + datum.value : ''"}},"y2":{"datum":-3.5},"fill":{"field":"ph","type":"nominal","scale":{"domain":["L","D"],"range":["#ffffff","#c8c8c8"]},"legend":null}}},
{"data":{"name":"ctrl"},"mark":{"type":"line","color":"#000000","strokeWidth":2,"strokeDash":[7,4]},"encoding":{"y":{"field":"y","type":"quantitative","axis":{"title":"Relative Luminescence","values":[-4,-2,0,2,4,6,8,10],"labelExpr":"datum.value % 4 === 0 ? '' + datum.value : ''"}}}},
{"data":{"name":"m3"},"mark":{"type":"line","color":"#ff0000","strokeWidth":2},"encoding":{"y":{"field":"y","type":"quantitative","axis":{"title":"Relative Luminescence","values":[-4,-2,0,2,4,6,8,10],"labelExpr":"datum.value % 4 === 0 ? '' + datum.value : ''"}}}}
]}
],"spacing":32}
]
}
